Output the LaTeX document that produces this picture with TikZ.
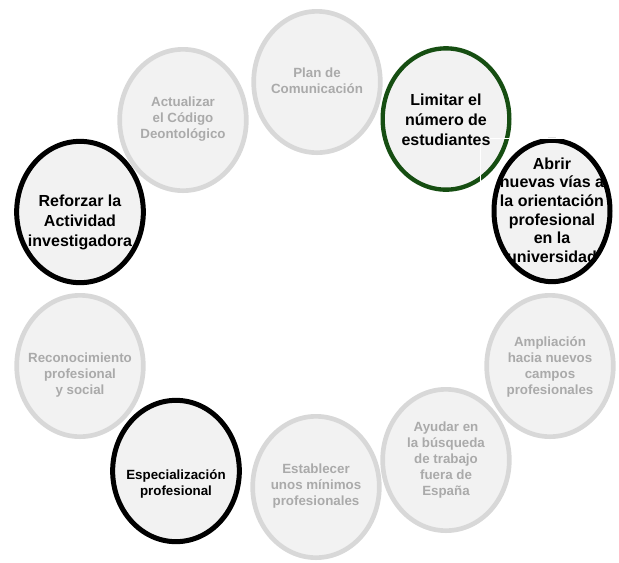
\documentclass[tikz,border=0pt]{standalone}
\usepackage{fontspec}
\setmainfont{Liberation Sans}
\usetikzlibrary{shapes.geometric,shadows}
\definecolor{circfill}{RGB}{242,242,242}
\definecolor{ringgray}{RGB}{216,216,216}
\definecolor{textgray}{RGB}{170,170,170}
\definecolor{ringgreen}{RGB}{22,78,18}
\tikzset{every picture/.style={line width=0.75pt}}

\begin{document}
\begin{tikzpicture}[x=0.75pt,y=0.75pt,yscale=-1,xscale=1,
	blob/.style={ellipse, inner sep=0pt, minimum width=95pt, minimum height=106pt, fill=circfill, drop shadow={opacity=0.2, shadow xshift=1pt, shadow yshift=-1pt}},
	grayblob/.style={blob, draw=ringgray, line width=3.5pt},
	darkblob/.style={blob, draw=black, line width=3.75pt},
	greenblob/.style={blob, draw=ringgreen, line width=3.25pt},
	graytxt/.style={align=center, text=textgray, font=\fontsize{10}{12}\selectfont\bfseries},
	darktxt/.style={align=center, text=black, font=\fontsize{12}{15}\selectfont\bfseries}]
	\useasboundingbox (0,0) rectangle (619,562);

	% Circles
	\node [grayblob] (plan) at (317,82) {};
	\node [grayblob] (actualizar) at (183,120) {};
	\node [greenblob] (limitar) at (446,119) {};
	\node [darkblob] (reforzar) at (80,212) {};
	\node [darkblob, minimum width=87pt] (abrir) at (552,211) {};
	\node [grayblob] (reconocimiento) at (80,366) {};
	\node [darkblob] (especializacion) at (176,471) {};
	\node [grayblob] (establecer) at (316,487) {};
	\node [grayblob] (ampliacion) at (550,366) {};
	\node [grayblob] (ayudar) at (446,460) {};

	% white frame of the text box
	\draw [white, line width=0.75pt] (480,183) -- (480,138) -- (619,138) ;

	% Text Nodes
	\node [graytxt] (plan-t) at (plan) [yshift=0.75pt] {Plan de\\Comunicación};
	\node [graytxt] (actualizar-t) at (actualizar) [yshift=0.75pt] {Actualizar\\el Código\\Deontológico};
	\node [darktxt] (limitar-t) at (limitar) [yshift=-0.75pt] {Limitar el\\número de\\estudiantes};
	\node [darktxt] (reforzar-t) at (reforzar) [yshift=-8pt] {Reforzar la\\Actividad\\investigadora};
	\node [darktxt, font=\fontsize{12}{14}\selectfont\bfseries] (abrir-t) at (abrir) [yshift=0.75pt] {Abrir\\nuevas vías a\\la orientación\\profesional\\en la\\universidad};
	\node [graytxt] (reconocimiento-t) at (reconocimiento) [yshift=-6.75pt] {Reconocimiento\\profesional\\y social};
	\node [darktxt, font=\fontsize{10}{12}\selectfont\bfseries] (especializacion-t) at (especializacion) [yshift=-9.75pt] {Especialización\\profesional};
	\node [graytxt] (establecer-t) at (establecer) [yshift=0.75pt] {Establecer\\unos mínimos\\profesionales};
	\node [graytxt] (ayudar-t) at (ayudar) {Ayudar en\\la búsqueda\\de trabajo\\fuera de\\España};
	\node [graytxt] (ampliacion-t) at (ampliacion) [yshift=-0.75pt] {Ampliación\\hacia nuevos\\campos\\profesionales};

\end{tikzpicture}
\end{document}
